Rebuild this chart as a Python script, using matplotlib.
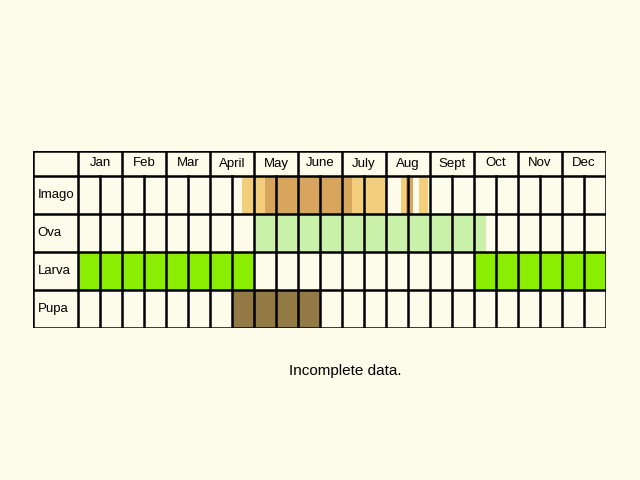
import matplotlib.pyplot as plt
from matplotlib.patches import Rectangle

months = ["Jan", "Feb", "Mar", "April", "May", "June", "July", "Aug", "Sept", "Oct", "Nov", "Dec"]
stages = ["Imago", "Ova", "Larva", "Pupa"]

# periods as (start, end) in months from 1 Jan
imago_light = [(3.73, 7.0), (7.34, 7.61), (7.75, 7.95)]
imago_dark = [(4.25, 6.23), (7.45, 7.61)]
ova = [(4.0, 9.27)]
larva = [(0.0, 4.0), (9.0, 12.0)]
pupa = [(3.5, 5.5)]

bg = "#fdfbe9"
fig = plt.figure(figsize=(6.4, 4.8), dpi=100, facecolor=bg)
ax = fig.add_axes([33 / 640, 1 - 328 / 480, 573 / 640, 177 / 480])
ax.set_facecolor(bg)
label_w = 45 / 44
ax.set_xlim(-label_w, 12)
head_h = 25 / 38
ax.set_ylim(4, -head_h)
ax.axis("off")

def spans(row, periods, color):
    for s, e in periods:
        ax.add_patch(Rectangle((s, row), e - s, 1, color=color, lw=0, zorder=1))

spans(0, imago_light, "#f3cf7c")
spans(0, imago_dark, "#d7a55b")
spans(1, ova, "#c9f1aa")
spans(2, larva, "#8aee00")
spans(3, pupa, "#937943")

# grid
lw = 1.8
for i in range(25):
    ax.plot([i / 2, i / 2], [0, 4], color="black", lw=lw, zorder=2)
for i in range(13):
    ax.plot([i, i], [-head_h, 0], color="black", lw=lw, zorder=2)
ax.plot([-label_w, -label_w], [-head_h, 4], color="black", lw=lw, zorder=2)
for y in [-head_h, 0, 1, 2, 3, 4]:
    ax.plot([-label_w, 12], [y, y], color="black", lw=lw, zorder=2)

for i, m in enumerate(months):
    ax.text(i + 0.5, -head_h / 2, m, ha="center", va="center", fontsize=9.5, family="Liberation Sans")
for j, s in enumerate(stages):
    ax.text(-label_w + 0.1, j + 0.5, s, ha="left", va="center", fontsize=9.5, family="Liberation Sans")

fig.text(345 / 640, 1 - 371 / 480, "Incomplete data.", ha="center", va="center", fontsize=11, family="Liberation Sans")
fig.savefig("out.png", dpi=100, facecolor=bg)
